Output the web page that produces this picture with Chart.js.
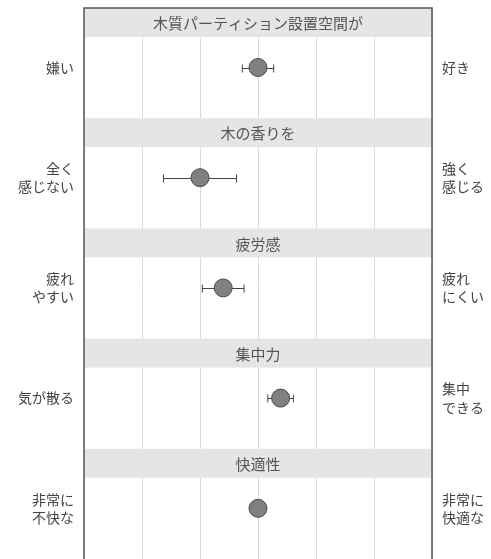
<!DOCTYPE html>
<html>
<head>
<meta charset="utf-8">
<script src="https://cdn.jsdelivr.net/npm/chart.js@4"></script>
<style>
  body { margin: 0; background: #fff; }
  #wrap { width: 491px; height: 559px; position: relative; }
</style>
</head>
<body>
<div id="wrap"><canvas id="myChart"></canvas></div>
<script>
// panels, top to bottom
const categories = ['木質パーティション設置空間が', '木の香りを', '疲労感', '集中力', '快適性'];
const lowLabels = [['嫌い'], ['全く', '感じない'], ['疲れ', 'やすい'], ['気が散る'], ['非常に', '不快な']];
const highLabels = [['好き'], ['強く', '感じる'], ['疲れ', 'にくい'], ['集中', 'できる'], ['非常に', '快適な']];
const means = [0.0, -1.0, -0.6, 0.39, 0.0];
const errors = [0.27, 0.63, 0.36, 0.22, 0.12];

const FONT = "'Noto Sans CJK JP', 'Noto Sans', sans-serif";
const HEADER = 0.263;   // share of a panel taken by the grey header
const POINT_POS = 0.54; // where the point sits inside a panel

document.addEventListener('DOMContentLoaded', function() {
    const panelPlugin = {
        id: 'panels',
        beforeDatasetsDraw(chart) {
            const ctx = chart.ctx;
            const area = chart.chartArea;
            const x = chart.scales.x;
            const y = chart.scales.y;
            ctx.save();
            // header bands, drawn over the grid
            categories.forEach(function(name, i) {
                const top = y.getPixelForValue(i);
                const bottom = y.getPixelForValue(i + HEADER);
                ctx.fillStyle = '#e5e5e7';
                ctx.fillRect(area.left, top, area.right - area.left, bottom - top);
                ctx.fillStyle = '#555';
                ctx.font = '15px ' + FONT;
                ctx.textAlign = 'center';
                ctx.textBaseline = 'middle';
                ctx.fillText(name, (area.left + area.right) / 2, (top + bottom) / 2 + 1);
            });
            // error bars
            ctx.strokeStyle = '#444';
            ctx.lineWidth = 1;
            means.forEach(function(m, i) {
                const py = Math.round(y.getPixelForValue(i + POINT_POS)) + 0.5;
                const x0 = x.getPixelForValue(m - errors[i]);
                const x1 = x.getPixelForValue(m + errors[i]);
                ctx.beginPath();
                ctx.moveTo(x0, py); ctx.lineTo(x1, py);
                ctx.moveTo(x0, py - 4); ctx.lineTo(x0, py + 4);
                ctx.moveTo(x1, py - 4); ctx.lineTo(x1, py + 4);
                ctx.stroke();
            });
            ctx.restore();
        },
        afterDraw(chart) {
            const ctx = chart.ctx;
            const a = chart.chartArea;
            ctx.save();
            ctx.strokeStyle = '#555';
            ctx.lineWidth = 1.5;
            ctx.beginPath();
            ctx.moveTo(a.left, a.bottom + 2);
            ctx.lineTo(a.left, a.top);
            ctx.lineTo(a.right, a.top);
            ctx.lineTo(a.right, a.bottom + 2);
            ctx.stroke();
            ctx.restore();
        }
    };

    const pointTicks = function(scale) {
        scale.ticks = means.map(function(m, i) { return { value: i + POINT_POS }; });
    };
    // ticks are not at the axis ends, so no extra room is needed
    const fitSide = function(w) {
        return function(scale) {
            scale.width = w;
            scale.paddingTop = 0;
            scale.paddingBottom = 0;
        };
    };

    const ctx = document.getElementById('myChart');
    new Chart(ctx, {
        type: 'scatter',
        data: {
            datasets: [{
                data: means.map(function(m, i) { return { x: m, y: i + POINT_POS }; }),
                pointRadius: 9,
                pointHoverRadius: 9,
                backgroundColor: '#808080',
                borderColor: '#4a4a4a',
                borderWidth: 1
            }]
        },
        options: {
            responsive: true,
            maintainAspectRatio: false,
            animation: false,
            events: [],
            layout: { autoPadding: false, padding: { top: 8, left: 0, right: 0, bottom: 0 } },
            plugins: { legend: { display: false }, tooltip: { enabled: false } },
            scales: {
                x: {
                    type: 'linear',
                    min: -3,
                    max: 3,
                    ticks: { display: false, stepSize: 1 },
                    grid: { color: '#dadada', lineWidth: 1, drawTicks: false },
                    border: { display: false },
                    afterFit(scale) { scale.height = 0; scale.paddingLeft = 0; scale.paddingRight = 0; }
                },
                y: {
                    type: 'linear',
                    position: 'left',
                    reverse: true,
                    min: 0,
                    max: 5,
                    afterBuildTicks: pointTicks,
                    ticks: {
                        padding: 10,
                        color: '#444',
                        font: { family: FONT, size: 14, lineHeight: 1.3 },
                        callback: function(v, i) { return lowLabels[i]; }
                    },
                    grid: { display: false, drawTicks: false },
                    border: { display: false },
                    afterFit: fitSide(84)
                },
                y2: {
                    type: 'linear',
                    position: 'right',
                    reverse: true,
                    min: 0,
                    max: 5,
                    afterBuildTicks: pointTicks,
                    ticks: {
                        padding: 10,
                        color: '#444',
                        font: { family: FONT, size: 14, lineHeight: 1.3 },
                        callback: function(v, i) { return highLabels[i]; }
                    },
                    grid: { display: false, drawTicks: false },
                    border: { display: false },
                    afterFit: fitSide(59)
                }
            }
        },
        plugins: [panelPlugin]
    });
});
</script>
</body>
</html>
